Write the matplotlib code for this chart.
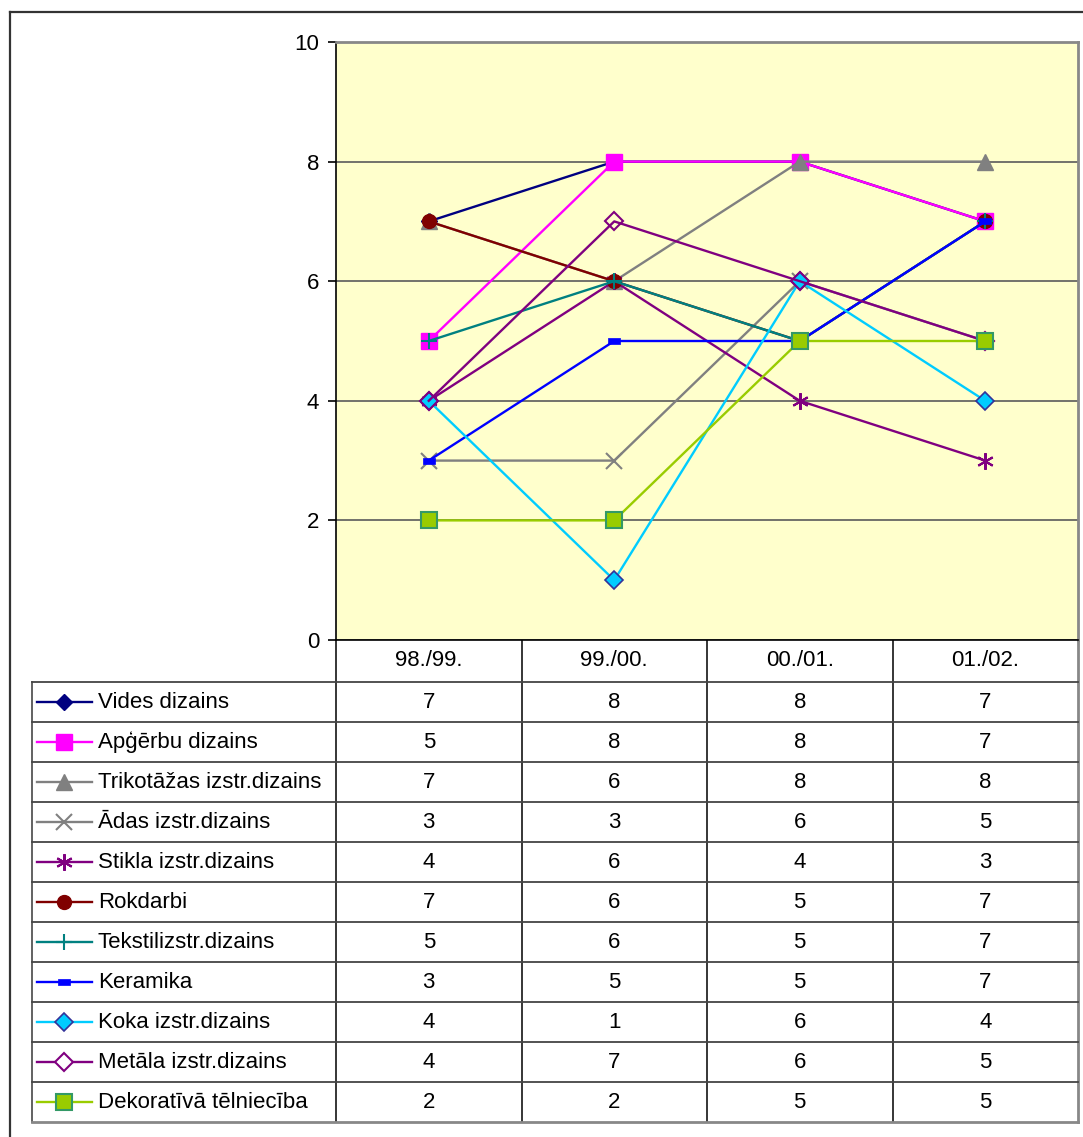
import matplotlib
matplotlib.use("Agg")
import matplotlib.pyplot as plt
from matplotlib.lines import Line2D

plt.rcParams["font.family"] = ["Liberation Sans", "DejaVu Sans"]

# Data
years = ["98./99.", "99./00.", "00./01.", "01./02."]
series_names = [
    "Vides dizains",
    "Apģērbu dizains",
    "Trikotāžas izstr.dizains",
    "Ādas izstr.dizains",
    "Stikla izstr.dizains",
    "Rokdarbi",
    "Tekstilizstr.dizains",
    "Keramika",
    "Koka izstr.dizains",
    "Metāla izstr.dizains",
    "Dekoratīvā tēlniecība",
]
vides = [7, 8, 8, 7]
apgerbu = [5, 8, 8, 7]
trikotazas = [7, 6, 8, 8]
adas = [3, 3, 6, 5]
stikla = [4, 6, 4, 3]
rokdarbi = [7, 6, 5, 7]
tekstil = [5, 6, 5, 7]
keramika = [3, 5, 5, 7]
koka = [4, 1, 6, 4]
metala = [4, 7, 6, 5]
dekorativa = [2, 2, 5, 5]
series_values = [vides, apgerbu, trikotazas, adas, stikla, rokdarbi,
                 tekstil, keramika, koka, metala, dekorativa]

# Styles: line colour, marker, marker size, face, edge
dash_marker = [(-1, -0.55), (1, -0.55), (1, 0.55), (-1, 0.55), (-1, -0.55)]
styles = [
    dict(color="#000080", marker="D", ms=8, mfc="#000080", mec="#000080", mew=1),
    dict(color="#FF00FF", marker="s", ms=12, mfc="#FF00FF", mec="#FF00FF", mew=1),
    dict(color="#808080", marker="^", ms=12, mfc="#808080", mec="#808080", mew=1),
    dict(color="#808080", marker="x", ms=11, mfc="none", mec="#808080", mew=1.5),
    dict(color="#800080", marker=(6, 2, 0), ms=12, mfc="none", mec="#800080", mew=1.5),
    dict(color="#800000", marker="o", ms=10, mfc="#800000", mec="#800000", mew=1),
    dict(color="#008080", marker="+", ms=12, mfc="none", mec="#008080", mew=1.5),
    dict(color="#0000FF", marker=dash_marker, ms=8, mfc="#0000FF", mec="#0000FF", mew=0.5),
    dict(color="#00CCFF", marker="D", ms=9, mfc="#00CCFF", mec="#333399", mew=1.2),
    dict(color="#800080", marker="D", ms=9, mfc="none", mec="#800080", mew=1.5),
    dict(color="#99CC00", marker="s", ms=12, mfc="#99CC00", mec="#339966", mew=1.5),
]

W, H = 1083, 1137
fig = plt.figure(figsize=(W / 100, H / 100), dpi=100, facecolor="white")

# overlay axes in pixel coordinates for frame and data table
frame = fig.add_axes([0, 0, 1, 1])
frame.set_xlim(0, W)
frame.set_ylim(H, 0)
frame.axis("off")

# plot area
pl, pr, pt, pb = 336, 1078, 42, 640
ax = fig.add_axes([pl / W, (H - pb) / H, (pr - pl) / W, (pb - pt) / H])
ax.set_facecolor("#FFFFCC")
ax.set_xlim(0, len(years))
ax.set_ylim(0, 10)
ax.set_yticks([0, 2, 4, 6, 8, 10])
ax.set_xticks([])
ax.tick_params(axis="y", direction="out", length=6, width=1.2, labelsize=16, pad=6)
ax.grid(axis="y", color="#5a5a5a", linewidth=1.2)
ax.set_axisbelow(True)
for side in ["top", "right"]:
    ax.spines[side].set_color("#888888")
    ax.spines[side].set_linewidth(2)
ax.spines["left"].set_color("black")
ax.spines["left"].set_linewidth(1.2)
ax.spines["bottom"].set_color("black")
ax.spines["bottom"].set_linewidth(1.2)

xs = [i + 0.5 for i in range(len(years))]
for k, (vals, st) in enumerate(zip(series_values, styles)):
    ax.plot(xs, vals, color=st["color"], linewidth=1.7, marker=st["marker"],
            markersize=st["ms"], markerfacecolor=st["mfc"],
            markeredgecolor=st["mec"], markeredgewidth=st["mew"],
            zorder=3 + k, clip_on=False)

# data table
col_w = (pr - pl) / len(years)
head_top, head_bot = pb, 682
row_h = 40
tab_left = 32
n = len(series_names)
tab_bot = head_bot + n * row_h

# header row
for j, lab in enumerate(years):
    frame.text(pl + col_w * (j + 0.5), (head_top + head_bot) / 2, lab,
               ha="center", va="center", fontsize=16)
# vertical lines
for j in range(len(years)):
    x = pl + col_w * j
    frame.plot([x, x], [head_top, tab_bot], color="black", lw=1.1)
frame.plot([pr, pr], [head_top, tab_bot], color="#888888", lw=2)
frame.plot([tab_left, tab_left], [head_bot, tab_bot], color="#555555", lw=1.3)
# horizontal lines
for i in range(n + 1):
    y = head_bot + i * row_h
    c = "#888888" if i == n else "#444444"
    frame.plot([tab_left, pr], [y, y], color=c, lw=1.3 if i < n else 2)

for i, (name, vals, st) in enumerate(zip(series_names, series_values, styles)):
    yc = head_bot + row_h * (i + 0.5)
    frame.add_line(Line2D([37, 92], [yc, yc], color=st["color"], lw=1.7))
    frame.add_line(Line2D([64], [yc], marker=st["marker"], markersize=st["ms"],
                          markerfacecolor=st["mfc"] if st["mfc"] != "none" else "white",
                          markeredgecolor=st["mec"], markeredgewidth=st["mew"],
                          linestyle="none"))
    frame.text(98, yc, name, ha="left", va="center", fontsize=16)
    for j, v in enumerate(vals):
        frame.text(pl + col_w * (j + 0.5), yc, str(v), ha="center", va="center",
                   fontsize=16)

# outer frame (clipped at right and bottom)
frame.plot([10, W + 5], [12, 12], color="#333333", lw=1.6, clip_on=False)
frame.plot([10, 10], [12, H + 5], color="#333333", lw=1.6, clip_on=False)

fig.savefig("out.png", dpi=100, facecolor="white")
